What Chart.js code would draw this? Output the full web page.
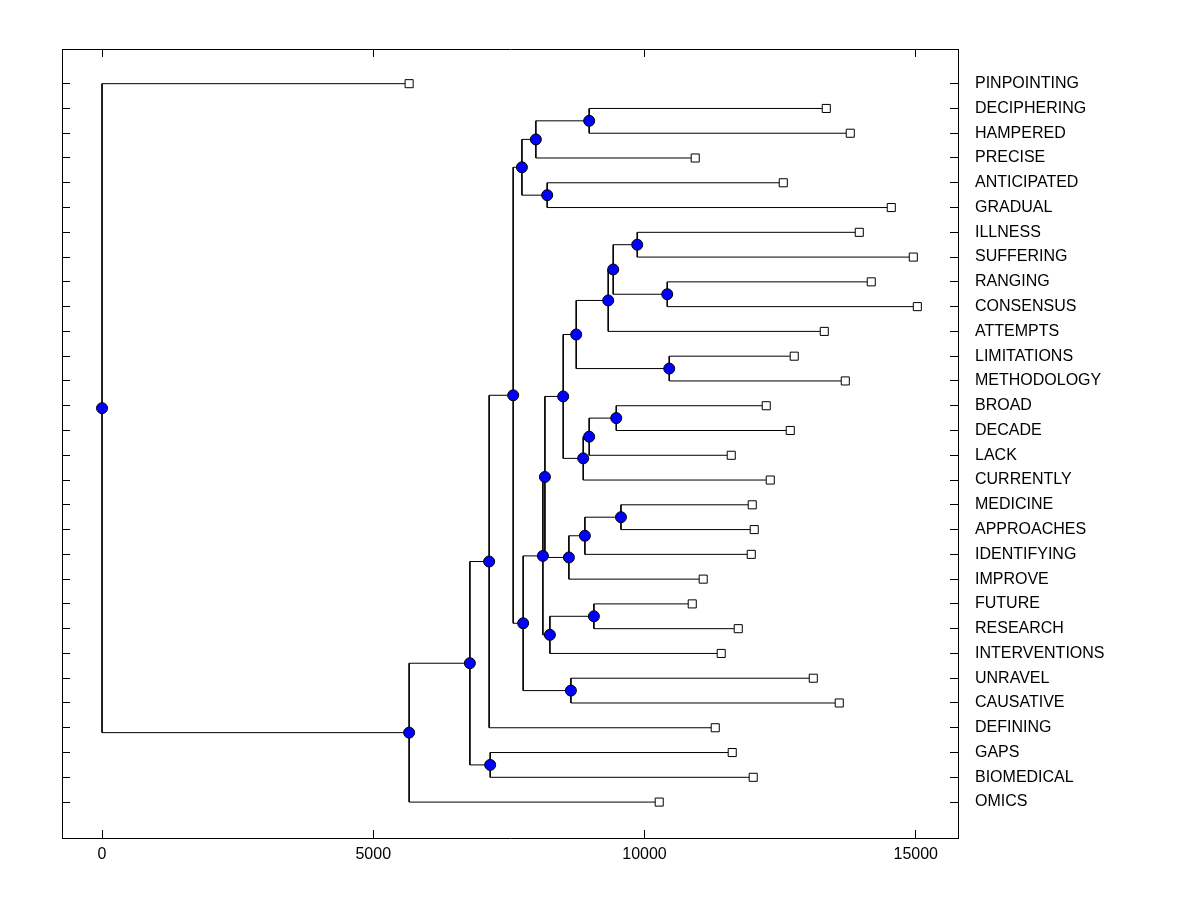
<!DOCTYPE html>
<html>
<head>
<meta charset="utf-8">
<script src="https://cdn.jsdelivr.net/npm/chart.js@4"></script>
<style>
  html, body { margin: 0; padding: 0; background: #fff; }
  #wrap { width: 1200px; height: 900px; }
</style>
</head>
<body>
<div id="wrap"><canvas id="myChart" width="1200" height="900"></canvas></div>
<script>
var leaves = ['PINPOINTING', 'DECIPHERING', 'HAMPERED', 'PRECISE', 'ANTICIPATED', 'GRADUAL',
    'ILLNESS', 'SUFFERING', 'RANGING', 'CONSENSUS', 'ATTEMPTS', 'LIMITATIONS', 'METHODOLOGY',
    'BROAD', 'DECADE', 'LACK', 'CURRENTLY', 'MEDICINE', 'APPROACHES', 'IDENTIFYING', 'IMPROVE',
    'FUTURE', 'RESEARCH', 'INTERVENTIONS', 'UNRAVEL', 'CAUSATIVE', 'DEFINING', 'GAPS',
    'BIOMEDICAL', 'OMICS'];
var leafHeights = [5661, 13351, 13793, 10935, 12558, 14549,
    13959, 14955, 14180, 15029, 13314, 12760, 13701,
    12244, 12687, 11599, 12318, 11986, 12023, 11968, 11082,
    10880, 11728, 11414, 13111, 13590, 11304, 11617,
    12004, 10271];

// merge k joins mergeA[k] and mergeB[k]; ids < 30 are leaves, 30 + k is merge k
var mergeA = [1, 30, 4, 31, 6, 8, 34, 36, 11, 37, 13, 40, 41, 39, 17, 44, 45, 43, 21, 48, 47, 24, 50, 33, 53, 27, 54, 56, 0];
var mergeB = [2, 3, 5, 32, 7, 9, 35, 10, 12, 38, 14, 15, 16, 42, 18, 19, 20, 46, 22, 23, 49, 25, 51, 52, 26, 28, 55, 29, 57];
var mergeHeights = [8980, 7997, 8206, 7740, 9866, 10419, 9423, 9331, 10456, 8741, 9479, 8980, 8870, 8501,
    9566, 8901, 8606, 8164, 9067, 8256, 8127, 8643, 7763, 7579, 7136, 7155, 6781, 5661, 0];

var xTicks = [0, 5000, 10000, 15000];

var FONT = "'Liberation Sans', Arial, sans-serif";

// node positions: leaves sit on their row, merges halfway between their children
var nodeX = leafHeights.slice();
var nodeY = leaves.map(function (l, i) { return i; });
for (var k = 0; k < mergeHeights.length; k++) {
    nodeX.push(mergeHeights[k]);
    nodeY.push((nodeY[mergeA[k]] + nodeY[mergeB[k]]) / 2);
}

var datasets = [];

// internal nodes
var nodePts = [];
for (var k = 0; k < mergeHeights.length; k++) {
    nodePts.push({ x: nodeX[30 + k], y: nodeY[30 + k] });
}
datasets.push({
    data: nodePts,
    showLine: false,
    pointStyle: 'circle',
    pointRadius: 5.5,
    pointBackgroundColor: '#0000ff',
    pointBorderColor: '#000000',
    pointBorderWidth: 1,
    order: 0
});

// leaves
var leafPts = leaves.map(function (l, i) { return { x: nodeX[i], y: nodeY[i] }; });
datasets.push({
    data: leafPts,
    showLine: false,
    pointStyle: 'rect',
    pointRadius: 5.7,
    pointBackgroundColor: '#ffffff',
    pointBorderColor: '#000000',
    pointBorderWidth: 1,
    order: 0
});

// elbow connectors, one polyline per merge
for (var k = 0; k < mergeHeights.length; k++) {
    var a = mergeA[k], b = mergeB[k], h = mergeHeights[k];
    datasets.push({
        data: [
            { x: nodeX[a], y: nodeY[a] },
            { x: h, y: nodeY[a] },
            { x: h, y: nodeY[b] },
            { x: nodeX[b], y: nodeY[b] }
        ],
        showLine: true,
        fill: false,
        tension: 0,
        borderColor: '#000000',
        borderWidth: 1,
        pointRadius: 0,
        order: 1
    });
}

function setXTicks(s) { s.ticks = xTicks.map(function (v) { return { value: v }; }); }
function setYTicks(s) { s.ticks = leaves.map(function (l, i) { return { value: i }; }); }

var inTicks = { drawOnChartArea: false, drawTicks: true, tickLength: -8, color: '#000000', lineWidth: 1 };
var frame = { display: true, color: '#000000', width: 1 };

var ctx = document.getElementById('myChart').getContext('2d');
var chart = new Chart(ctx, {
    type: 'scatter',
    data: { datasets: datasets },
    options: {
        responsive: false,
        animation: false,
        devicePixelRatio: 1,
        events: [],
        layout: { padding: { left: 62, top: 49, right: 0, bottom: 0 } },
        plugins: {
            legend: { display: false },
            tooltip: { enabled: false }
        },
        scales: {
            x: {
                type: 'linear', position: 'bottom', min: -738, max: 15779,
                afterBuildTicks: setXTicks,
                afterFit: function (s) { s.height = 62; },
                grid: inTicks,
                border: frame,
                ticks: {
                    color: '#000000', font: { family: FONT, size: 16 }, padding: 15,
                    maxRotation: 0, autoSkip: false,
                    callback: function (v) { return String(v); }
                }
            },
            x2: {
                type: 'linear', position: 'top', min: -738, max: 15779,
                afterBuildTicks: setXTicks,
                afterFit: function (s) { s.height = 0; },
                grid: inTicks,
                border: frame,
                ticks: { display: false }
            },
            y: {
                type: 'linear', position: 'left', reverse: true, min: -1.4, max: 30.45,
                afterBuildTicks: setYTicks,
                afterFit: function (s) { s.width = 0; },
                grid: inTicks,
                border: frame,
                ticks: { display: false }
            },
            y2: {
                type: 'linear', position: 'right', reverse: true, min: -1.4, max: 30.45,
                afterBuildTicks: setYTicks,
                afterFit: function (s) { s.width = 242; },
                grid: inTicks,
                border: frame,
                ticks: {
                    color: '#000000', font: { family: FONT, size: 16 }, padding: 25,
                    autoSkip: false,
                    callback: function (v) { return leaves[v]; }
                }
            }
        }
    }
});
</script>
</body>
</html>
